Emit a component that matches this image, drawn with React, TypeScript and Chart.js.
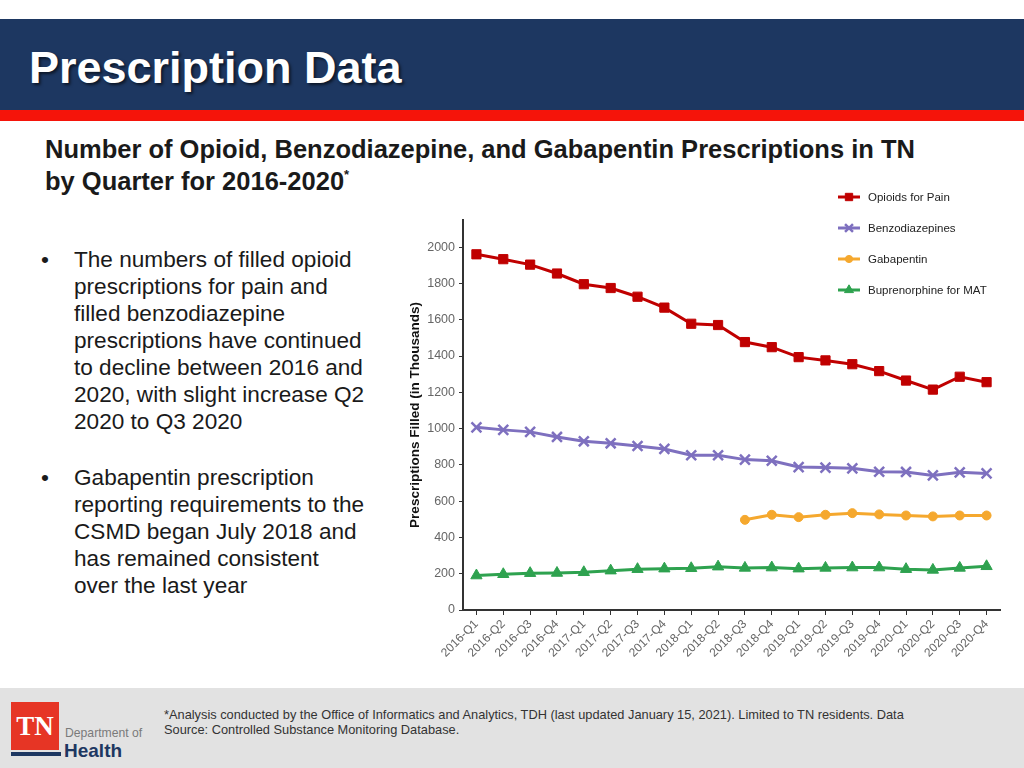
import React, { useEffect, useRef } from "react";
import { Chart, registerables } from "chart.js";
import { drawPoint } from "chart.js/helpers";

Chart.register(...registerables);

const categories = [
  "2016-Q1", "2016-Q2", "2016-Q3", "2016-Q4",
  "2017-Q1", "2017-Q2", "2017-Q3", "2017-Q4",
  "2018-Q1", "2018-Q2", "2018-Q3", "2018-Q4",
  "2019-Q1", "2019-Q2", "2019-Q3", "2019-Q4",
  "2020-Q1", "2020-Q2", "2020-Q3", "2020-Q4",
];
const opioids = [1961, 1934, 1904, 1855, 1796, 1775, 1727, 1667, 1578, 1571, 1477, 1449, 1394, 1376, 1355, 1317, 1265, 1215, 1286, 1256];
const benzodiazepines = [1007, 993, 982, 954, 930, 919, 904, 888, 853, 853, 829, 823, 788, 785, 781, 762, 761, 742, 759, 753];
const gabapentin = [null, null, null, null, null, null, null, null, null, null, 497, 525, 512, 525, 534, 527, 521, 516, 521, 521];
const buprenorphine = [190, 197, 203, 204, 208, 217, 225, 228, 230, 239, 232, 234, 228, 232, 234, 234, 225, 221, 232, 241];
const seriesLabels = ["Opioids for Pain", "Benzodiazepines", "Gabapentin", "Buprenorphine for MAT"];
const yAxisTitle = "Prescriptions Filled (in Thousands)";

const CANVAS_LEFT = 395;
const CANVAS_TOP = 180;
const CANVAS_W = 615;
const CANVAS_H = 490;

const legendPlugin = {
  id: "sideLegend",
  afterDraw(chart: any) {
    const ctx = chart.ctx;
    const x0 = 838 - CANVAS_LEFT;
    chart.data.datasets.forEach((ds: any, i: number) => {
      const y = 197 - CANVAS_TOP + i * 31;
      ctx.save();
      ctx.strokeStyle = ds.borderColor;
      ctx.fillStyle = ds.borderColor;
      ctx.lineWidth = 3;
      ctx.beginPath();
      ctx.moveTo(x0, y);
      ctx.lineTo(x0 + 22, y);
      ctx.stroke();
      ctx.lineWidth = ds.pointBorderWidth;
      drawPoint(ctx, { pointStyle: ds.pointStyle, radius: ds.pointRadius * 0.8, borderWidth: ds.pointBorderWidth, rotation: 0 } as any, x0 + 11, y);
      ctx.fillStyle = "#222222";
      ctx.font = "11.5px 'Liberation Sans', Arial, sans-serif";
      ctx.textBaseline = "middle";
      ctx.textAlign = "left";
      ctx.fillText(ds.label, x0 + 30, y + 1);
      ctx.restore();
    });
  },
};

function LineChart() {
  const ref = useRef<HTMLCanvasElement | null>(null);
  useEffect(() => {
    if (!ref.current) return;
    const mk = (label: string, data: any[], color: string, style: string, radius: number, bw: number) => ({
      label,
      data,
      borderColor: color,
      backgroundColor: color,
      pointBackgroundColor: color,
      pointBorderColor: color,
      pointStyle: style,
      pointRadius: radius,
      pointBorderWidth: bw,
      borderWidth: 3,
      tension: 0,
      spanGaps: false,
    });
    const chart = new Chart(ref.current, {
      type: "line",
      data: {
        labels: categories,
        datasets: [
          mk(seriesLabels[0], opioids, "#c00000", "rect", 6.5, 1),
          mk(seriesLabels[1], benzodiazepines, "#7e70bf", "crossRot", 7, 2.5),
          mk(seriesLabels[2], gabapentin, "#f5a82e", "circle", 4.5, 1),
          mk(seriesLabels[3], buprenorphine, "#2ea24f", "triangle", 6.5, 1),
        ],
      },
      options: {
        animation: false,
        responsive: false,
        maintainAspectRatio: false,
        layout: { padding: { top: 40, right: 10, left: 0, bottom: 0 } },
        plugins: { legend: { display: false }, tooltip: { enabled: false } },
        scales: {
          x: {
            offset: true,
            grid: { display: true, drawOnChartArea: false, drawTicks: true, tickLength: 5, color: "#333333" },
            border: { display: true, color: "#333333", width: 2 },
            ticks: {
              color: "#666666",
              font: { family: "'Liberation Sans', Arial, sans-serif", size: 12 },
              minRotation: 45,
              maxRotation: 45,
              autoSkip: false,
              padding: 2,
            },
            afterFit: (s: any) => { s.height = 60; },
          },
          y: {
            min: 0,
            max: 2150,
            grid: { display: true, drawOnChartArea: false, drawTicks: true, tickLength: 4, color: "#333333" },
            border: { display: true, color: "#333333", width: 2 },
            ticks: {
              stepSize: 200,
              includeBounds: false,
              color: "#666666",
              font: { family: "'Liberation Sans', Arial, sans-serif", size: 12.5 },
              padding: 4,
              callback: (v: any) => String(v),
            },
            title: {
              display: true,
              text: yAxisTitle,
              color: "#111111",
              font: { family: "'Liberation Sans', Arial, sans-serif", size: 13.5, weight: "bold" },
              padding: { top: 12, bottom: 0 },
            },
            afterFit: (s: any) => { s.width = 68; },
          },
        },
      },
      plugins: [legendPlugin],
    } as any);
    return () => chart.destroy();
  }, []);
  return (
    <canvas
      ref={ref}
      width={CANVAS_W}
      height={CANVAS_H}
      style={{ position: "absolute", left: CANVAS_LEFT, top: CANVAS_TOP, width: CANVAS_W, height: CANVAS_H }}
    />
  );
}

const font = "'Liberation Sans', Arial, Helvetica, sans-serif";

export default function App() {
  const bullet1 = [
    "The numbers of filled opioid",
    "prescriptions for pain and",
    "filled benzodiazepine",
    "prescriptions have continued",
    "to decline between 2016 and",
    "2020, with slight increase Q2",
    "2020 to Q3 2020",
  ];
  const bullet2 = [
    "Gabapentin prescription",
    "reporting requirements to the",
    "CSMD began July 2018 and",
    "has remained consistent",
    "over the last year",
  ];
  return (
    <div style={{ position: "absolute", left: 0, top: 0, width: 1024, height: 768, background: "#ffffff", overflow: "hidden", fontFamily: font }}>
      <div style={{ position: "absolute", left: 0, top: 19, width: 1024, height: 91, background: "#1d3761" }} />
      <div style={{ position: "absolute", left: 0, top: 110, width: 1024, height: 11, background: "#f5140a" }} />
      <div style={{ position: "absolute", left: 29, top: 46, fontSize: 45, lineHeight: "44px", fontWeight: "bold", color: "#ffffff", textShadow: "2px 2px 3px rgba(0,0,0,0.6)", whiteSpace: "nowrap" }}>
        Prescription Data
      </div>
      <div style={{ position: "absolute", left: 45, top: 133, fontSize: 25.5, lineHeight: "32px", fontWeight: "bold", color: "#1a1a1a", whiteSpace: "nowrap" }}>
        Number of Opioid, Benzodiazepine, and Gabapentin Prescriptions in TN
        <br />
        by Quarter for 2016-2020<sup style={{ fontSize: 13, verticalAlign: "top", lineHeight: "20px" }}>*</sup>
      </div>
      {[{ top: 245.5, lines: bullet1 }, { top: 463.5, lines: bullet2 }].map((b, i) => (
        <div key={i} style={{ position: "absolute", left: 0, top: b.top, fontSize: 22.6, lineHeight: "27px", color: "#1a1a1a", whiteSpace: "nowrap" }}>
          <div style={{ position: "absolute", left: 41 }}>•</div>
          <div style={{ position: "absolute", left: 74 }}>
            {b.lines.map((l, j) => (
              <div key={j}>{l}</div>
            ))}
          </div>
        </div>
      ))}
      <LineChart />
      <div style={{ position: "absolute", left: 0, top: 688, width: 1024, height: 80, background: "#e2e2e2" }} />
      <div style={{ position: "absolute", left: 11, top: 702, width: 48, height: 48, background: "#e63525" }} />
      <div style={{ position: "absolute", left: 11, top: 711, width: 48, textAlign: "center", fontFamily: "'Liberation Serif', 'Times New Roman', serif", fontSize: 27, fontWeight: "bold", lineHeight: "30px", color: "#ffffff" }}>
        TN
      </div>
      <div style={{ position: "absolute", left: 11, top: 752, width: 50, height: 4, background: "#1d3761" }} />
      <div style={{ position: "absolute", left: 65, top: 726, fontSize: 12.2, lineHeight: "15px", color: "#7a7a7a", whiteSpace: "nowrap" }}>Department of</div>
      <div style={{ position: "absolute", left: 64, top: 740, fontSize: 19, lineHeight: "22px", fontWeight: "bold", color: "#1d3761", whiteSpace: "nowrap" }}>Health</div>
      <div style={{ position: "absolute", left: 164, top: 707, fontSize: 12.8, lineHeight: "15px", color: "#333333", whiteSpace: "nowrap" }}>
        *Analysis conducted by the Office of Informatics and Analytics, TDH (last updated January 15, 2021). Limited to TN residents. Data
        <br />
        Source: Controlled Substance Monitoring Database.
      </div>
    </div>
  );
}
